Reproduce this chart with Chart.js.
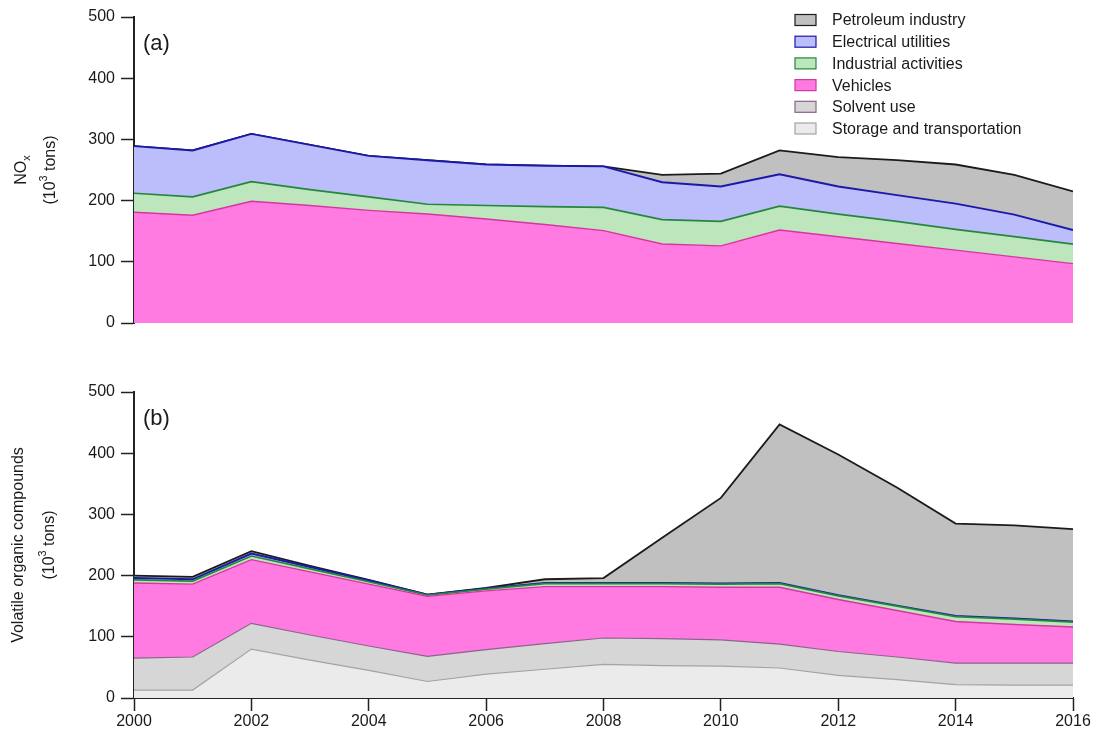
<!DOCTYPE html>
<html>
<head>
<meta charset="utf-8">
<script src="https://cdn.jsdelivr.net/npm/chart.js@4.4.1/dist/chart.umd.min.js"></script>
<style>
  html, body { margin: 0; padding: 0; background: #fff; }
  #wrap { position: relative; width: 1098px; height: 744px; }
  .panel { position: absolute; left: 0; width: 1098px; height: 372px; }
  #pa { top: 0; }
  #pb { top: 372px; }
</style>
</head>
<body>
<div id="wrap">
  <div class="panel" id="pa"><canvas id="ca"></canvas></div>
  <div class="panel" id="pb"><canvas id="cb"></canvas></div>
</div>
<script>
// Years covered by the emission inventory
const years = [2000, 2001, 2002, 2003, 2004, 2005, 2006, 2007, 2008,
               2009, 2010, 2011, 2012, 2013, 2014, 2015, 2016];

// Source sectors, listed as they appear in the legend
const sourceNames = ['Petroleum industry', 'Electrical utilities', 'Industrial activities',
                     'Vehicles', 'Solvent use', 'Storage and transportation'];

// (a) NOx emissions by sector, 10^3 tons
const noxVehicles   = [181, 176, 199, 192, 184, 178, 170, 161, 151, 129, 126, 152, 141, 130, 119, 108, 97];
const noxIndustrial = [31, 30, 32, 26, 22, 16, 22, 29, 38, 40, 40, 39, 37, 36, 34, 33, 32];
const noxElectrical = [77, 76, 78, 73, 67, 72, 67, 67, 67, 61, 57, 52, 45, 43, 42, 36, 23];
const noxPetroleum  = [0, 0, 0, 0, 0, 0, 0, 0, 0, 12, 21, 39, 48, 57, 64, 65, 63];

// (b) VOC emissions by sector, 10^3 tons
const vocStorage    = [13, 13, 80, 62, 45, 27, 39, 47, 55, 53, 52, 49, 37, 30, 22, 21, 21];
const vocSolvent    = [52, 54, 42, 41, 40, 41, 40, 42, 43, 44, 43, 39, 39, 37, 35, 36, 36];
const vocVehicles   = [123, 119, 104, 103, 101, 98, 96, 93, 84, 85, 86, 93, 85, 76, 68, 63, 59];
const vocIndustrial = [5, 5, 6, 5, 4, 2, 3, 5, 5, 5, 5, 6, 6, 7, 8, 9, 8];
const vocElectrical = [3, 3, 4, 3, 2, 1, 1, 1, 1, 1, 1, 1, 1, 1, 1, 1, 1];
const vocPetroleum  = [4, 4, 4, 2, 1, 0, 1, 6, 8, 74, 140, 259, 230, 193, 151, 152, 151];

// Axis ticks
const yTicks = [0, 100, 200, 300, 400, 500];
const xTicks = [2000, 2002, 2004, 2006, 2008, 2010, 2012, 2014, 2016];

// Drawing style for each sector
const sectorStyle = {
  'Petroleum industry':         { fill: '#c0c0c0', line: '#1b1b1b', width: 1.8 },
  'Electrical utilities':       { fill: '#bcbdfb', line: '#1a1aa8', width: 1.9 },
  'Industrial activities':      { fill: '#bde6bd', line: '#23873c', width: 1.7 },
  'Vehicles':                   { fill: '#ff7be1', line: '#d8349f', width: 1.4 },
  'Solvent use':                { fill: '#d6d6d6', line: '#8c628c', width: 1.2 },
  'Storage and transportation': { fill: '#ebebeb', line: '#a3a3a3', width: 1.2 }
};

const FONT = '"Liberation Sans", Arial, "DejaVu Sans", sans-serif';
const INK = '#1a1a1a';

function series(name, values, first) {
  const st = sectorStyle[name];
  return {
    label: name,
    data: years.map((yr, i) => ({ x: yr, y: values[i] })),
    backgroundColor: st.fill,
    borderColor: st.line,
    borderWidth: st.width,
    fill: first ? 'origin' : '-1',
    pointRadius: 0,
    pointHoverRadius: 0,
    tension: 0
  };
}

// Rotated text with optional super/subscript pieces
function drawRich(ctx, parts, x, y, size) {
  ctx.save();
  ctx.translate(x, y);
  ctx.rotate(-Math.PI / 2);
  ctx.textBaseline = 'middle';
  ctx.textAlign = 'left';
  ctx.fillStyle = INK;
  const sizes = parts.map(p => (p.s ? size * 0.68 : size));
  const widths = parts.map((p, i) => { ctx.font = sizes[i] + 'px ' + FONT; return ctx.measureText(p.t).width; });
  let cx = -widths.reduce((a, b) => a + b, 0) / 2;
  parts.forEach((p, i) => {
    ctx.font = sizes[i] + 'px ' + FONT;
    const dy = p.s > 0 ? -size * 0.42 : (p.s < 0 ? size * 0.3 : 0);
    ctx.fillText(p.t, cx, dy);
    cx += widths[i];
  });
  ctx.restore();
}

function annotate(panelLabel, titleLines, titleX, withLegend) {
  return {
    id: 'annotate',
    afterDraw(chart) {
      const ctx = chart.ctx;
      const area = chart.chartArea;
      const cy = (area.top + area.bottom) / 2;
      titleLines.forEach((parts, i) => drawRich(ctx, parts, titleX[i], cy, 16));

      ctx.save();
      ctx.fillStyle = INK;
      ctx.font = '22px ' + FONT;
      ctx.textBaseline = 'middle';
      ctx.textAlign = 'left';
      ctx.fillText(panelLabel, area.left + 9, area.top + 27);
      ctx.restore();

      if (withLegend) {
        ctx.save();
        ctx.font = '16px ' + FONT;
        ctx.textBaseline = 'middle';
        ctx.textAlign = 'left';
        sourceNames.forEach((name, i) => {
          const st = sectorStyle[name];
          const yc = 20 + i * 21.7;
          ctx.fillStyle = st.fill;
          ctx.fillRect(795, yc - 5.5, 21, 11);
          ctx.strokeStyle = st.line;
          ctx.lineWidth = 1.2;
          ctx.strokeRect(795, yc - 5.5, 21, 11);
          ctx.fillStyle = INK;
          ctx.fillText(name, 832, yc + 1);
        });
        ctx.restore();
      }
    }
  };
}

function yAxis() {
  return {
    stacked: true,
    min: 0,
    max: 500,
    afterFit(scale) { scale.width = 134; },
    afterBuildTicks(scale) { scale.ticks = yTicks.map(v => ({ value: v })); },
    ticks: { color: INK, font: { family: FONT, size: 16 }, padding: 6 },
    grid: { drawOnChartArea: false, drawTicks: true, tickLength: 13, tickWidth: 1.5, tickColor: '#222' },
    border: { display: true, color: '#222', width: 2 }
  };
}

Chart.defaults.font.family = FONT;

// (a) NOx
new Chart(document.getElementById('ca'), {
  type: 'line',
  data: {
    datasets: [
      series('Vehicles', noxVehicles, true),
      series('Industrial activities', noxIndustrial, false),
      series('Electrical utilities', noxElectrical, false),
      series('Petroleum industry', noxPetroleum, false)
    ]
  },
  options: {
    responsive: true,
    maintainAspectRatio: false,
    animation: false,
    layout: { padding: { top: 17, bottom: 49, left: 0, right: 25 } },
    plugins: { legend: { display: false }, tooltip: { enabled: false } },
    scales: {
      x: { type: 'linear', min: 2000, max: 2016, display: false },
      y: yAxis()
    }
  },
  plugins: [annotate('(a)',
    [[{ t: 'NO', s: 0 }, { t: 'x', s: -1 }],
     [{ t: '(10', s: 0 }, { t: '3', s: 1 }, { t: ' tons)', s: 0 }]],
    [22, 51], true)]
});

// (b) VOC
new Chart(document.getElementById('cb'), {
  type: 'line',
  data: {
    datasets: [
      series('Storage and transportation', vocStorage, true),
      series('Solvent use', vocSolvent, false),
      series('Vehicles', vocVehicles, false),
      series('Industrial activities', vocIndustrial, false),
      series('Electrical utilities', vocElectrical, false),
      series('Petroleum industry', vocPetroleum, false)
    ]
  },
  options: {
    responsive: true,
    maintainAspectRatio: false,
    animation: false,
    layout: { padding: { top: 20, bottom: 0, left: 0, right: 25 } },
    plugins: { legend: { display: false }, tooltip: { enabled: false } },
    scales: {
      x: {
        type: 'linear',
        min: 2000,
        max: 2016,
        afterFit(scale) { scale.height = 46; },
        afterBuildTicks(scale) { scale.ticks = xTicks.map(v => ({ value: v })); },
        ticks: { color: INK, font: { family: FONT, size: 16 }, padding: 1, maxRotation: 0, callback: v => String(v) },
        grid: { drawOnChartArea: false, drawTicks: true, tickLength: 13, tickWidth: 1.5, tickColor: '#222' },
        border: { display: true, color: '#222', width: 2 }
      },
      y: yAxis()
    }
  },
  plugins: [annotate('(b)',
    [[{ t: 'Volatile organic compounds', s: 0 }],
     [{ t: '(10', s: 0 }, { t: '3', s: 1 }, { t: ' tons)', s: 0 }]],
    [19, 50], false)]
});
</script>
</body>
</html>
